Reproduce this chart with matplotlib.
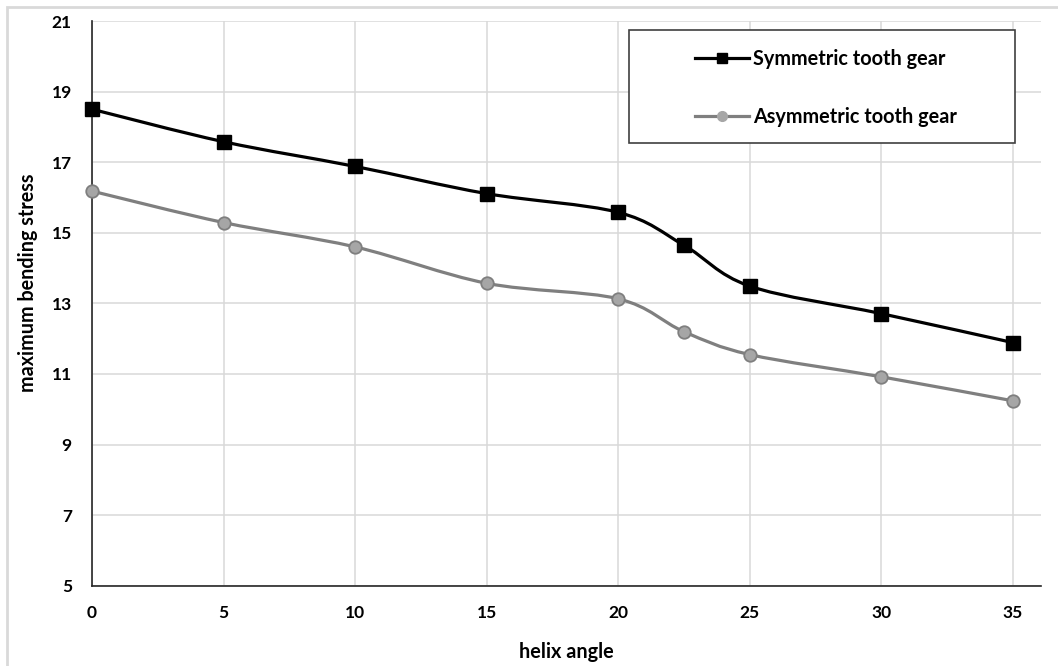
import matplotlib
matplotlib.use('Agg')
import matplotlib.pyplot as plt
from matplotlib.path import Path
from matplotlib.patches import PathPatch, Rectangle
from matplotlib.lines import Line2D

plt.rcParams['font.family'] = ['Lato', 'DejaVu Sans']
plt.rcParams['font.weight'] = 'bold'

# data
helixAngle = [0, 5, 10, 15, 20, 22.5, 25, 30, 35]
symStress = [18.50, 17.58, 16.88, 16.11, 15.58, 14.65, 13.49, 12.71, 11.89]
asymStress = [16.18, 15.29, 14.60, 13.57, 13.13, 12.20, 11.55, 10.92, 10.24]
xTicks = [0, 5, 10, 15, 20, 25, 30, 35]
yTicks = [5, 7, 9, 11, 13, 15, 17, 19, 21]
symName = 'Symmetric tooth gear'
asymName = 'Asymmetric tooth gear'


def smoothPath(xs, ys):
    # excel style smoothed line: catmull-rom segments as cubic beziers
    pts = list(zip(xs, ys))
    verts = [pts[0]]
    codes = [Path.MOVETO]
    n = len(pts)
    for i in range(n - 1):
        p0 = pts[max(i - 1, 0)]
        p1 = pts[i]
        p2 = pts[i + 1]
        p3 = pts[min(i + 2, n - 1)]
        c1 = (p1[0] + (p2[0] - p0[0]) / 6, p1[1] + (p2[1] - p0[1]) / 6)
        c2 = (p2[0] - (p3[0] - p1[0]) / 6, p2[1] - (p3[1] - p1[1]) / 6)
        verts += [c1, c2, p2]
        codes += [Path.CURVE4] * 3
    return Path(verts, codes)


W, H = 1058, 666
fig = plt.figure(figsize=(W / 100, H / 100), dpi=100)
# plot area in pixels: left 92, right 1041, top 21, bottom 585.7
axL, axR, axT, axB = 92, 1041, 21, 585.7
ax = fig.add_axes([axL / W, (H - axB) / H, (axR - axL) / W, (axB - axT) / H])

# light outer frame of the chart area
fig.patches.append(Rectangle((7 / W, -0.1), 1.2, (H - 6.5) / H + 0.1,
                             transform=fig.transFigure, fill=False,
                             edgecolor='#d9d9d9', linewidth=2, zorder=0))

symClr = '#000000'
asymLine = '#7f7f7f'
asymFill = '#a6a6a6'

ax.add_patch(PathPatch(smoothPath(helixAngle, symStress), fill=False,
                       edgecolor=symClr, linewidth=2.3, zorder=3))
ax.add_patch(PathPatch(smoothPath(helixAngle, asymStress), fill=False,
                       edgecolor=asymLine, linewidth=2.3, zorder=3))
ax.plot(helixAngle, symStress, linestyle='none', marker='s', markersize=9.5,
        color=symClr, zorder=4, clip_on=False)
ax.plot(helixAngle, asymStress, linestyle='none', marker='o', markersize=9,
        markerfacecolor=asymFill, markeredgecolor=asymLine, markeredgewidth=1.3,
        zorder=4, clip_on=False)

ax.set_xlim(0, 36.08)
ax.set_ylim(5, 21)
ax.set_xticks(xTicks)
ax.set_yticks(yTicks)
ax.grid(True, color='#d9d9d9', linewidth=1.1)
ax.set_axisbelow(True)
for side in ['top', 'right']:
    ax.spines[side].set_visible(False)
for side in ['left', 'bottom']:
    ax.spines[side].set_color('#262626')
    ax.spines[side].set_linewidth(1.2)
ax.tick_params(length=0, labelsize=12.5, colors='#000000')
ax.tick_params(axis='y', pad=14.5)
ax.tick_params(axis='x', pad=14)

# axis titles
fig.text((axL + axR) / 2 / W, 1 - 652 / H, 'helix angle', fontsize=14.3,
         ha='center', va='center')
fig.text(28 / W, 1 - 283 / H, 'maximum bending stress', fontsize=14.2,
         rotation=90, ha='center', va='center')

# legend box drawn separately, entries placed inside it
ax.add_patch(Rectangle(((629 - axL) / (axR - axL), 1 - (143 - axT) / (axB - axT)),
                       386 / (axR - axL), 113 / (axB - axT), transform=ax.transAxes,
                       facecolor='white', edgecolor='#404040', linewidth=1.2,
                       zorder=5, clip_on=False))
handles = [
    Line2D([], [], color=symClr, linewidth=2.3, marker='s', markersize=7),
    Line2D([], [], color=asymLine, linewidth=2.3, marker='o', markersize=7,
           markerfacecolor=asymFill, markeredgecolor=asymFill),
]
leg = ax.legend(handles, [symName, asymName], loc='center left',
                bbox_to_anchor=((695 - axL) / (axR - axL), 1 - (88 - axT) / (axB - axT)),
                fontsize=14.3, frameon=False, borderpad=0, labelspacing=1.9,
                handlelength=2.72, handletextpad=0.2, borderaxespad=0)
leg.set_zorder(6)

fig.savefig('out.png', dpi=100)
plt.close()
